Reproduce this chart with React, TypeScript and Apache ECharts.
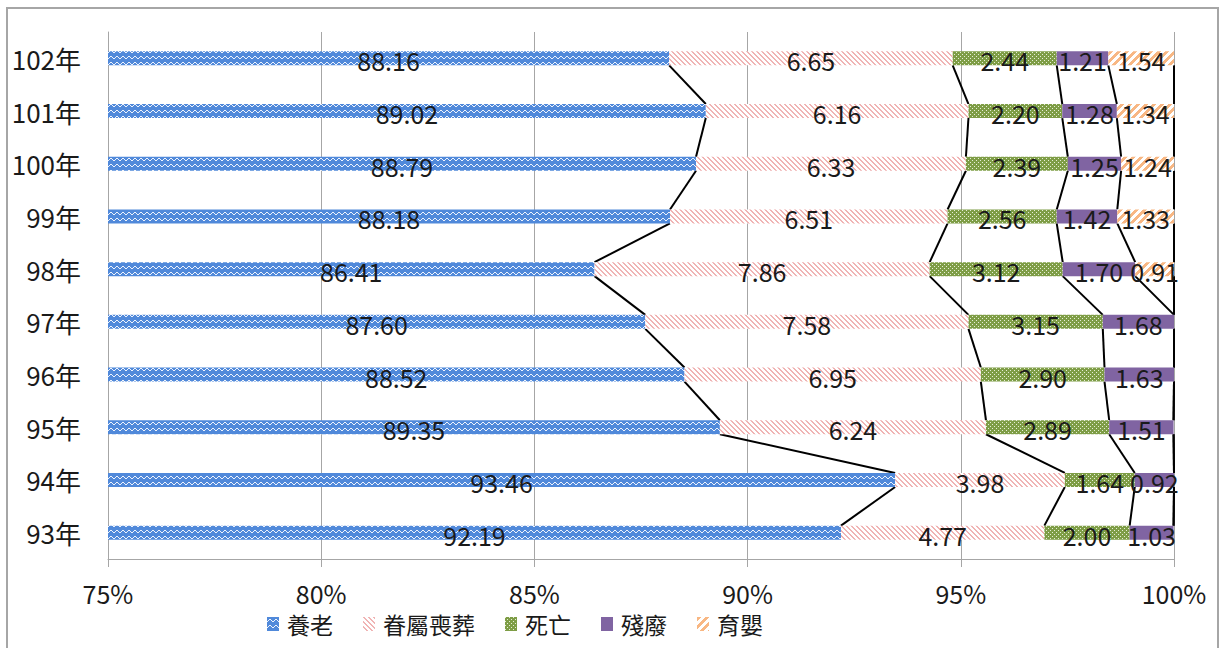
import React, { useEffect, useRef } from 'react';
import * as echarts from 'echarts';

const categories = ['93年', '94年', '95年', '96年', '97年', '98年', '99年', '100年', '101年', '102年'];
const seriesNames = ['養老', '眷屬喪葬', '死亡', '殘廢', '育嬰'];
const yangLao = [92.19, 93.46, 89.35, 88.52, 87.6, 86.41, 88.18, 88.79, 89.02, 88.16];
const juanShu = [4.77, 3.98, 6.24, 6.95, 7.58, 7.86, 6.51, 6.33, 6.16, 6.65];
const siWang = [2.0, 1.64, 2.89, 2.9, 3.15, 3.12, 2.56, 2.39, 2.2, 2.44];
const canFei = [1.03, 0.92, 1.51, 1.63, 1.68, 1.7, 1.42, 1.25, 1.28, 1.21];
const yuYing: (number | null)[] = [null, null, null, null, null, 0.91, 1.33, 1.24, 1.34, 1.54];
const xMin = 75;
const xMax = 100;
const xInterval = 5;

const FONT = '"Noto Sans CJK TC", "Noto Sans", sans-serif';

function makeTile(w: number, h: number, bg: string, fg: string, test: (x: number, y: number) => boolean) {
  const c = document.createElement('canvas');
  c.width = w;
  c.height = h;
  const ctx = c.getContext('2d')!;
  ctx.fillStyle = bg;
  ctx.fillRect(0, 0, w, h);
  ctx.fillStyle = fg;
  for (let x = 0; x < w; x++) {
    for (let y = 0; y < h; y++) {
      if (test(x, y)) ctx.fillRect(x, y, 1, 1);
    }
  }
  return { image: c.toDataURL(), repeat: 'repeat', imageWidth: w, imageHeight: h } as any;
}

function buildPatterns() {
  const waveY = [4, 3, 2, 2, 3, 4];
  const blue = makeTile(6, 6, '#5089DA', 'rgba(255,255,255,0.9)', (x, y) => waveY[x] === y);
  const pink = makeTile(5, 5, '#FFFFFF', '#F0B4B4', (x, y) => ((x - y + 10) % 5) < 2);
  const green = makeTile(4, 4, '#7E9D46', '#E6EED6', (x, y) => (x === 0 && y === 0) || (x === 2 && y === 2));
  const purple = '#8064A2';
  const orange = makeTile(8, 8, '#FFFFFF', '#F8B783', (x, y) => ((x + y) % 8) < 4);
  return [blue, pink, green, purple, orange];
}

export default function App() {
  const ref = useRef<HTMLDivElement>(null);
  useEffect(() => {
    if (!ref.current) return;
    const chart = echarts.init(ref.current, undefined, { renderer: 'svg' });
    const colors = buildPatterns();
    const seriesData = [yangLao, juanShu, siWang, canFei, yuYing];

    const cumulative = categories.map((_, i) => {
      let s = 0;
      return seriesData.map((arr) => {
        s += (arr[i] ?? 0) as number;
        return Math.min(xMax, s);
      });
    });
    const lineData: number[][] = [];
    for (let i = 0; i < categories.length - 1; i++) {
      for (let k = 0; k < seriesNames.length; k++) {
        lineData.push([cumulative[i][k], i, cumulative[i + 1][k], i + 1]);
      }
    }
    const barHalf = 7;

    const barSeries = seriesNames.map((name, idx) => ({
      name,
      type: 'bar',
      stack: 'total',
      barWidth: 14,
      data: seriesData[idx],
      itemStyle: { color: colors[idx] },
      label: {
        show: true,
        position: 'inside',
        offset: [0, 2],
        color: '#1a1a1a',
        fontSize: 25,
        fontFamily: FONT,
        formatter: (p: any) => (p.value == null ? '' : Number(p.value).toFixed(2)),
      },
      emphasis: { disabled: true },
      z: 3,
    }));

    chart.setOption({
      animation: false,
      grid: { left: 108, right: 48, top: 32, bottom: 89, containLabel: false },
      legend: {
        data: seriesNames,
        top: 607,
        left: 262,
        itemGap: 30,
        itemWidth: 12,
        itemHeight: 14,
        icon: 'rect',
        textStyle: { fontSize: 23, lineHeight: 24, color: '#1a1a1a', fontFamily: FONT, padding: [0, 0, 0, 3] },
      },
      xAxis: {
        type: 'value',
        min: xMin,
        max: xMax,
        interval: xInterval,
        axisLine: { show: true, lineStyle: { color: '#A6A6A6', width: 1 } },
        axisTick: { show: true, length: 8, lineStyle: { color: '#A6A6A6' } },
        splitLine: { show: true, lineStyle: { color: '#A6A6A6', width: 1 } },
        axisLabel: {
          formatter: (v: number) => `${v}%`,
          fontSize: 25,
          lineHeight: 25,
          color: '#1a1a1a',
          fontFamily: FONT,
          margin: 21,
        },
      },
      yAxis: {
        type: 'category',
        data: categories,
        axisLine: { show: true, lineStyle: { color: '#A6A6A6', width: 1 } },
        axisTick: { show: false },
        axisLabel: { fontSize: 26, color: '#1a1a1a', fontFamily: FONT, margin: 27 },
      },
      series: [
        ...barSeries,
        {
          name: 'seriesLines',
          type: 'custom',
          data: lineData,
          encode: { x: [0, 2], y: [1, 3] },
          silent: true,
          z: 2,
          renderItem: (params: any, api: any) => {
            const p1 = api.coord([api.value(0), api.value(1)]);
            const p2 = api.coord([api.value(2), api.value(3)]);
            return {
              type: 'line',
              shape: { x1: p1[0], y1: p1[1] - barHalf, x2: p2[0], y2: p2[1] + barHalf },
              style: { stroke: '#000000', lineWidth: 2 },
            };
          },
        },
      ],
    } as any);
    return () => chart.dispose();
  }, []);

  return (
    <div style={{ position: 'fixed', left: 0, top: 0, width: 1222, height: 648, overflow: 'hidden', background: '#fff' }}>
      <div
        style={{
          position: 'absolute',
          left: 6,
          top: 7,
          width: 1213,
          height: 700,
          border: '2px solid #A6A6A6',
          boxSizing: 'border-box',
        }}
      />
      <div ref={ref} style={{ position: 'absolute', left: 0, top: 0, width: 1222, height: 648 }} />
    </div>
  );
}
